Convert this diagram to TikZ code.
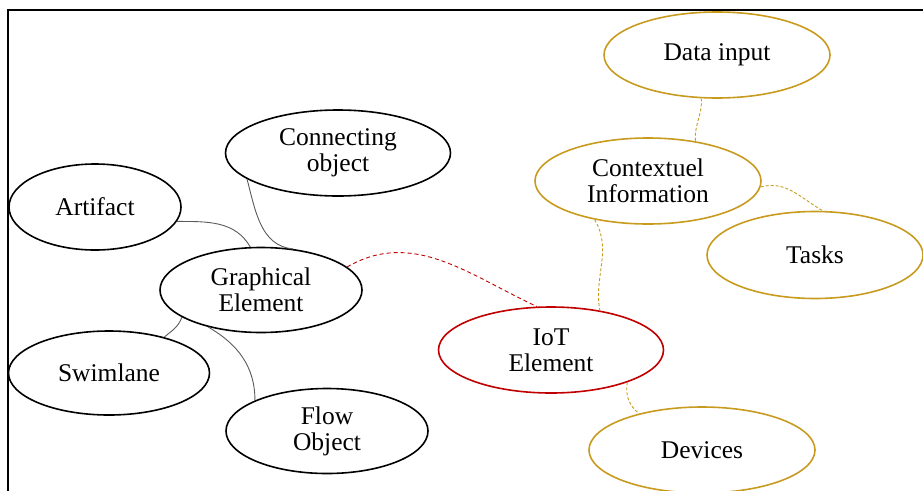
\documentclass[tikz,border=0pt]{standalone}
\usepackage{fontspec}
\setmainfont{Liberation Serif}
\usetikzlibrary{shapes.geometric}
\definecolor{gold}{RGB}{200,155,30}
\definecolor{iotred}{RGB}{192,0,0}
\definecolor{linkgray}{RGB}{90,90,90}
\tikzset{
  bub/.style={ellipse, draw=black, line width=1.6pt, inner sep=0pt, align=center,
    font=\fontsize{25.5}{26}\selectfont},
  goldbub/.style={bub, draw=gold},
  redbub/.style={bub, draw=iotred},
  glink/.style={draw=linkgray, line width=0.9pt},
  rlink/.style={draw=iotred, line width=0.9pt, dash pattern=on 4pt off 3pt},
  ylink/.style={draw=gold, line width=0.9pt, dash pattern=on 3pt off 2pt},
}
\begin{document}
\begin{tikzpicture}[x=1pt,y=-1pt]
\useasboundingbox (0,0) rectangle (923,490);
\clip (0,0) rectangle (923,490);
\draw[line width=1.5pt] (8,492) -- (8,10) -- (925,10);

\node[bub, minimum width=172pt, minimum height=86pt] (art) at (95,207) {Artifact};
\node[bub, minimum width=225pt, minimum height=86pt] (con) at (338,153) {Connecting\\object};
\node[bub, minimum width=202pt, minimum height=85pt] (ge) at (261,290) {Graphical\\Element};
\node[bub, minimum width=201pt, minimum height=84pt] (swim) at (109,373) {Swimlane};
\node[bub, minimum width=202pt, minimum height=85pt] (flow) at (327,431) {Flow\\Object};
\node[redbub, minimum width=225pt, minimum height=86pt] (iot) at (551,350) {IoT\\Element};
\node[goldbub, minimum width=226pt, minimum height=86pt] (data) at (717,55) {Data input};
\node[goldbub, minimum width=226pt, minimum height=86pt] (ctx) at (648,181) {Contextuel\\Information};
\node[goldbub, minimum width=216pt, minimum height=87pt] (task) at (815,255) {Tasks};
\node[goldbub, minimum width=226pt, minimum height=86pt] (dev) at (702,450) {Devices};

\draw[glink] (art.-10) to[out=0,in=120] (ge.104);
\draw[glink] (con.196) to[out=-75,in=175] (ge.52);
\draw[glink] (ge.199) to[out=-110,in=40] (swim.33);
\draw[glink] (ge.215) to[out=-30,in=90] (flow.157);

\draw[rlink] (ge.15) to[out=30,in=155] (iot.108);

\draw[ylink] (data.250) to[out=-85,in=95] (ctx.40);
\draw[ylink] (ctx.-3) to[out=15,in=150] (task.80);
\draw[ylink] (ctx.216) to[out=-60,in=100] (iot.39);
\draw[ylink] (iot.-23) to[out=-100,in=140] (dev.150);
\end{tikzpicture}
\end{document}
